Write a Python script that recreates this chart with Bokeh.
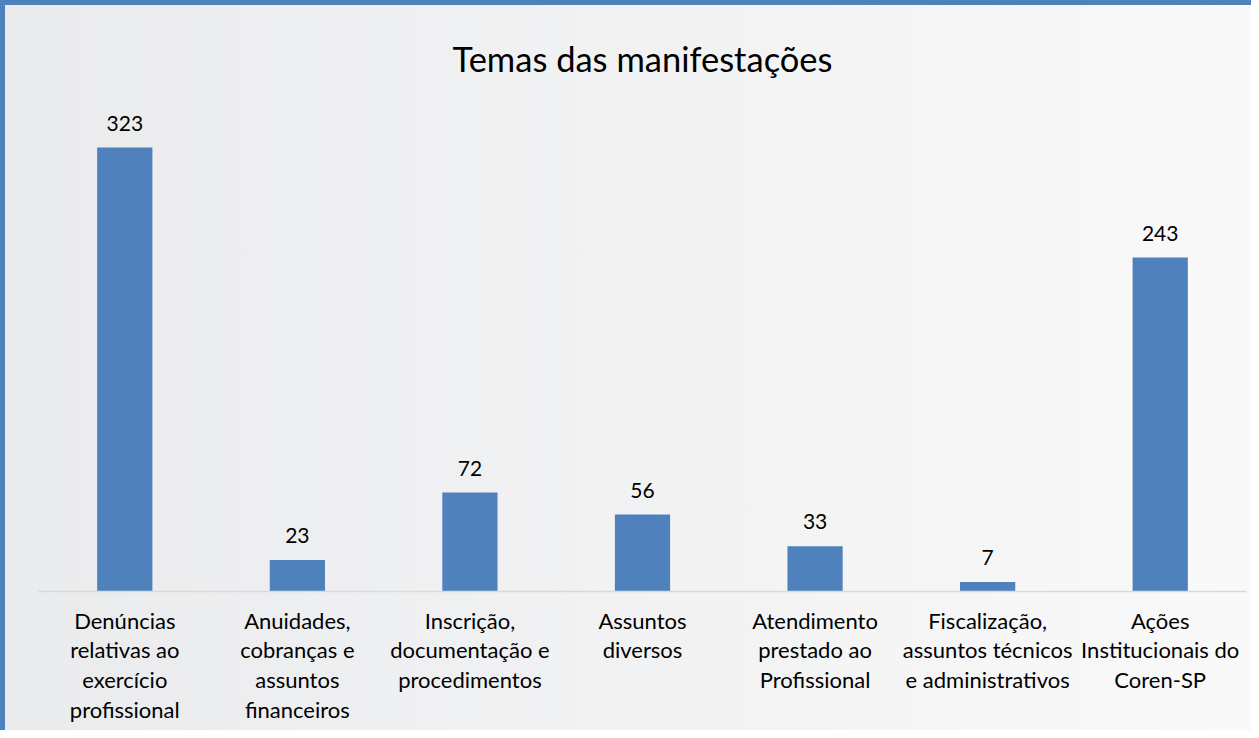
from bokeh.plotting import figure
from bokeh.models import ColumnDataSource, Range1d
from bokeh.core.properties import value
from bokeh.embed import file_html
from bokeh.resources import INLINE

categories = [
    "Denúncias\nrelativas ao\nexercício\nprofissional",
    "Anuidades,\ncobranças e\nassuntos\nfinanceiros",
    "Inscrição,\ndocumentação e\nprocedimentos",
    "Assuntos\ndiversos",
    "Atendimento\nprestado ao\nProfissional",
    "Fiscalização,\nassuntos técnicos\ne administrativos",
    "Ações\nInstitucionais do\nCoren-SP",
]
values = [323, 23, 72, 56, 33, 7, 243]

src = ColumnDataSource(dict(cat=categories, val=values, txt=[str(v) for v in values]))

FONT = "Lato"

p = figure(
    x_range=categories,
    width=1251,
    height=730,
    output_backend="svg",
    toolbar_location=None,
    title="Temas das manifestações",
    min_border_left=33,
    min_border_right=10,
    min_border_top=100,
    min_border_bottom=144,
)
p.y_range = Range1d(0, 353.6)

p.vbar(x="cat", top="val", width=0.32, source=src, color="#4F81BD", line_color=None)
p.text(x="cat", y="val", text="txt", source=src, text_align="center",
       text_baseline="bottom", y_offset=-17, text_font=value(FONT),
       text_font_size="21px", text_color="#000000")

p.title.align = "center"
p.title.text_font = FONT
p.title.text_font_size = "34.5px"
p.title.text_font_style = "normal"
p.title.text_color = "#000000"
p.title.offset = 0
p.title.standoff = 54

p.yaxis.visible = False
p.xgrid.visible = False
p.ygrid.visible = False
p.outline_line_color = None

xa = p.xaxis[0]
xa.major_tick_line_color = None
xa.minor_tick_line_color = None
xa.axis_line_color = "#D9D9D9"
xa.axis_line_width = 1.5
xa.major_label_text_font = FONT
xa.major_label_text_font_size = "22px"
xa.major_label_text_color = "#000000"
xa.major_label_standoff = 9
xa.major_label_text_line_height = 1.1

p.background_fill_alpha = 0
p.border_fill_alpha = 0
p.styles = {
    "background": "linear-gradient(to right, #EAEBED, #F9F9F9)",
    "border-top": "5px solid #4F81BD",
    "border-left": "5px solid #4F81BD",
    "box-sizing": "border-box",
}

open("out.html", "w").write(file_html(p, INLINE))
